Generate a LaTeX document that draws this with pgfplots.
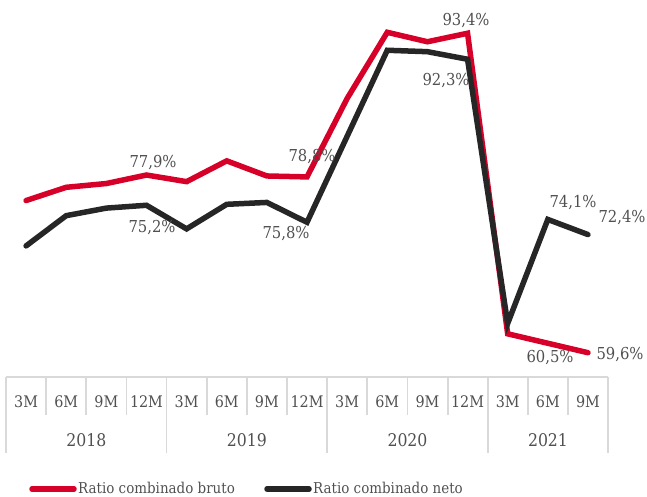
\documentclass[border=0pt]{standalone}
\usepackage{pgfplots}
\pgfplotsset{compat=1.18}
\usepackage{fontspec}
\setmainfont{DejaVu Serif Condensed}
\definecolor{cred}{RGB}{215,0,40}
\definecolor{cblack}{RGB}{38,38,38}
\definecolor{ctext}{RGB}{80,80,80}
\definecolor{cgrid}{RGB}{217,217,217}
\begin{document}
\begin{tikzpicture}[x=1bp,y=1bp]
\useasboundingbox (0,0) rectangle (647,497);
\begin{axis}[
  at={(6bp,120bp)}, anchor=south west,
  scale only axis, width=602bp, height=377bp,
  xmin=-0.5, xmax=14.5, ymin=57.03, ymax=96.92,
  axis line style={draw=none},
  major tick length=0pt,
  ytick=\empty,
  xtick={0,...,14},
  xticklabels={3M,6M,9M,12M,3M,6M,9M,12M,3M,6M,9M,12M,3M,6M,9M},
  xticklabel style={anchor=base, yshift=-31bp, font=\fontsize{16}{19}\selectfont, text=ctext},
  clip=false,
]
\addplot[color=cred, line width=5.5bp, line cap=round] coordinates {
(0,75.7) (1,77.1) (2,77.5) (3,78.4) (4,77.7) (5,79.9) (6,78.3) (7,78.2)
(8,86.5) (9,93.5) (10,92.5) (11,93.4) (12,61.6) (13,60.6) (14,59.6)};
\addplot[color=cblack, line width=5.5bp, line cap=round] coordinates {
(0,70.9) (1,74.1) (2,74.9) (3,75.2) (4,72.7) (5,75.3) (6,75.5) (7,73.4)
(8,82.5) (9,91.6) (10,91.45) (11,90.65) (12,62.7) (13,73.7) (14,72.1)};
\end{axis}
% category table lines
\begin{scope}[cgrid, line width=1.8bp]
\draw (6,120) -- (608,120);
\foreach \x in {46.1,86.3,126.4,206.7,246.9,287.0,367.3,407.5,447.6,527.9,568.1}
  \draw (\x,120) -- (\x,82);
\foreach \x in {6,166.5,327.2,487.8,608}
  \draw (\x,120) -- (\x,44);
\end{scope}
\begin{scope}[every node/.style={text=ctext, font=\fontsize{16.5}{19}\selectfont, inner sep=0pt}]
\node[anchor=base, font=\fontsize{17.5}{20}\selectfont] at (86.3,50) {2018};
\node[anchor=base, font=\fontsize{17.5}{20}\selectfont] at (246.9,50) {2019};
\node[anchor=base, font=\fontsize{17.5}{20}\selectfont] at (407.5,50) {2020};
\node[anchor=base, font=\fontsize{17.5}{20}\selectfont] at (548,50) {2021};
% data labels
\node at (153,334) {77,9\%};
\node at (152,269) {75,2\%};
\node at (312,340) {78,8\%};
\node at (286,263) {75,8\%};
\node at (466,476) {93,4\%};
\node at (446,416) {92,3\%};
\node at (573,294) {74,1\%};
\node at (622,279) {72,4\%};
\node at (550,139) {60,5\%};
\node at (620,142) {59,6\%};
% legend
\draw[cred, line width=5.5bp, line cap=round] (32,8) -- (74,8);
\node[anchor=base west, font=\fontsize{15}{18}\selectfont] at (78,3) {Ratio combinado bruto};
\draw[cblack, line width=5.5bp, line cap=round] (267,8) -- (309,8);
\node[anchor=base west, font=\fontsize{15}{18}\selectfont] at (313,3) {Ratio combinado neto};
\end{scope}
\end{tikzpicture}
\end{document}
